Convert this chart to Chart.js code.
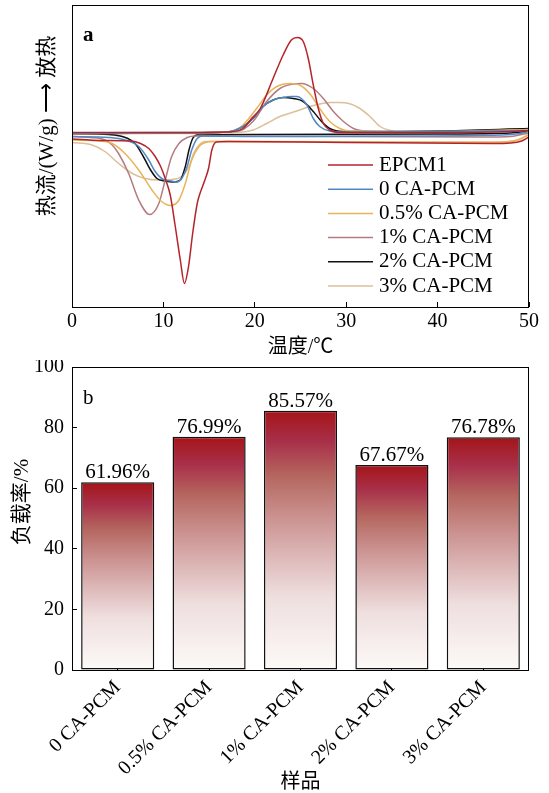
<!DOCTYPE html>
<html>
<head>
<meta charset="utf-8">
<script src="https://cdn.jsdelivr.net/npm/chart.js@4.4.1/dist/chart.umd.min.js"></script>
<style>
  html, body { margin: 0; padding: 0; background: #fff; }
  canvas { display: block; }
</style>
</head>
<body>
<canvas id="dscChart" width="549" height="360"></canvas>
<canvas id="loadChart" width="549" height="433"></canvas>
<script>
// ===== 数据 =====
const sampleNames = ['EPCM1', '0 CA-PCM', '0.5% CA-PCM', '1% CA-PCM', '2% CA-PCM', '3% CA-PCM'];
const sampleColors = ['#b5242a', '#5089c4', '#e8b458', '#b47b80', '#111111', '#dcc09a'];

// 升温段 [温度/℃, 热流/(W/g)]
const heatEPCM1 = [[0,-0.12],[3,-0.15],[6.5,-0.16],[7.5,-0.21],[8.4,-0.31],[9.1,-0.47],[9.7,-0.67],[10.2,-0.91],[10.75,-1.24],[11.3,-1.87],[11.85,-2.54],[12.3,-3.01],[12.75,-2.67],[13.2,-2.01],[13.7,-1.41],[14.0,-1.21],[14.5,-0.96],[14.95,-0.70],[15.3,-0.34],[15.8,-0.18],[17,-0.17],[30,-0.19],[46,-0.21],[48,-0.20],[49.2,-0.16],[50,-0.08]];
const heat0 = [[0,-0.07],[4,-0.09],[5.8,-0.14],[7.3,-0.27],[8.4,-0.54],[9.1,-0.77],[10.0,-0.93],[10.9,-0.96],[11.5,-0.98],[12.0,-0.91],[12.6,-0.67],[13.1,-0.34],[13.7,-0.11],[14.4,-0.06],[20,-0.07],[35,-0.06],[47,-0.04],[49,-0.01],[50,0.03]];
const heat05 = [[0,-0.14],[3,-0.16],[4.4,-0.21],[5.8,-0.41],[7.3,-0.74],[8.75,-1.14],[9.8,-1.37],[10.8,-1.45],[11.7,-1.34],[12.4,-1.01],[13.1,-0.54],[13.9,-0.27],[14.6,-0.19],[15.3,-0.17],[30,-0.18],[46,-0.19],[48.5,-0.15],[50,-0.04]];
const heat1 = [[0,-0.07],[2,-0.09],[3.6,-0.14],[4.4,-0.24],[5.1,-0.41],[6.2,-0.81],[7.3,-1.34],[8.5,-1.63],[9.5,-1.41],[10.2,-0.94],[10.9,-0.47],[11.7,-0.21],[12.6,-0.09],[13.5,-0.06],[25,-0.07],[45,-0.08],[48,-0.07],[50,0]];
const heat2 = [[0,-0.01],[4,-0.03],[5.5,-0.07],[6.9,-0.21],[7.8,-0.47],[8.6,-0.74],[9.3,-0.91],[10.2,-0.96],[11.1,-0.98],[11.85,-0.94],[12.4,-0.67],[12.8,-0.34],[13.2,-0.11],[13.7,-0.04],[20,-0.03],[40,-0.02],[48,0],[50,0.04]];
const heat3 = [[0,-0.19],[2.2,-0.24],[3.6,-0.37],[5.1,-0.61],[6.6,-0.81],[8.0,-0.91],[9.5,-0.94],[10.9,-0.93],[12.0,-0.87],[12.8,-0.67],[13.3,-0.41],[13.9,-0.24],[14.6,-0.17],[20,-0.17],[40,-0.18],[47,-0.18],[49,-0.13],[50,-0.02]];

// 降温段 [温度/℃, 热流/(W/g)]
const coolEPCM1 = [[0,0.01],[10,0.01],[17,0.02],[18.7,0.09],[19.6,0.28],[20.6,0.49],[22.0,1.09],[23.1,1.56],[24.0,1.86],[24.65,1.91],[25.3,1.83],[25.85,1.49],[26.4,0.96],[26.95,0.49],[27.5,0.19],[28.2,0.06],[29.5,0.01],[40,0.01],[48,0.03],[50,0.05]];
const cool0 = [[0,-0.01],[10,0],[17,0.02],[18.7,0.13],[19.8,0.29],[20.9,0.53],[22.0,0.66],[23.1,0.71],[24.0,0.73],[24.6,0.73],[25.7,0.56],[26.4,0.29],[27.1,0.13],[28.2,0.04],[30,0.02],[40,0.03],[50,0.05]];
const cool05 = [[0,-0.02],[10,0],[17.5,0.03],[18.7,0.16],[20.2,0.49],[21.3,0.76],[22.4,0.93],[23.85,0.99],[24.9,0.96],[26.0,0.79],[27.1,0.49],[28.2,0.23],[29.3,0.09],[30.4,0.04],[40,0.03],[50,0.07]];
const cool1 = [[0,0],[10,0.01],[18,0.03],[19.8,0.23],[21.3,0.63],[22.75,0.89],[24.2,0.98],[25.1,0.99],[26.4,0.89],[27.5,0.69],[28.6,0.43],[29.7,0.23],[30.8,0.09],[32.2,0.04],[40,0.02],[50,0.06]];
const cool2 = [[0,-0.02],[10,0],[17,0.02],[18.7,0.13],[19.8,0.29],[20.9,0.53],[22.0,0.66],[23.1,0.71],[24.2,0.69],[25.3,0.63],[26.4,0.43],[27.3,0.23],[28.2,0.09],[29.7,0.03],[40,0.04],[50,0.09]];
const cool3 = [[0,-0.02],[10,-0.01],[18,0.01],[19.8,0.06],[21.3,0.19],[22.75,0.33],[24.6,0.44],[26.0,0.53],[27.5,0.595],[28.3,0.612],[29.2,0.612],[30.4,0.585],[31.5,0.49],[32.6,0.33],[33.7,0.13],[34.8,0.05],[36,0.03],[45,0.03],[50,0.06]];

const heatCurves = [heatEPCM1, heat0, heat05, heat1, heat2, heat3];
const coolCurves = [coolEPCM1, cool0, cool05, cool1, cool2, cool3];
const tempTicks = [0, 10, 20, 30, 40, 50];

// 负载率
const loadCategories = ['0 CA-PCM', '0.5% CA-PCM', '1% CA-PCM', '2% CA-PCM', '3% CA-PCM'];
const loadValues = [61.96, 76.99, 85.57, 67.67, 76.78];
const loadTicks = [0, 20, 40, 60, 80, 100];

// ===== 通用设置 =====
const FONT = "'Liberation Serif', 'Noto Sans CJK SC', serif";
Chart.defaults.font.family = FONT;
Chart.defaults.font.size = 20;
Chart.defaults.color = '#000';

function font(size, weight) {
    return (weight ? weight + ' ' : '') + size + 'px ' + FONT;
}

// 画外框、编号和竖排坐标轴标题
function drawFrame(chart, tag, tagBold, yTitle, yTitleX, yTitleY) {
    const { ctx, chartArea: a } = chart;
    ctx.save();
    ctx.strokeStyle = '#000';
    ctx.lineWidth = 1;
    ctx.strokeRect(a.left + 0.5, a.top + 0.5, a.right - a.left - 1, a.bottom - a.top);
    ctx.fillStyle = '#000';
    ctx.font = font(21, tagBold ? 'bold' : '');
    ctx.textBaseline = 'middle';
    ctx.fillText(tag, a.left + 11, a.top + 31);
    ctx.translate(yTitleX, yTitleY);
    ctx.rotate(-Math.PI / 2);
    ctx.textAlign = 'center';
    ctx.font = font(21);
    ctx.fillText(yTitle, 0, 0);
    ctx.restore();
}

// ===== 图 a：DSC 曲线 =====
const dscDatasets = [];
sampleNames.forEach((name, i) => {
    [heatCurves[i], coolCurves[i]].forEach(curve => {
        dscDatasets.push({
            label: name,
            data: curve.map(p => ({ x: p[0], y: p[1] })),
            borderColor: sampleColors[i],
            borderWidth: 1.5,
            pointRadius: 0,
            cubicInterpolationMode: 'monotone',
            fill: false
        });
    });
});

const dscDecor = {
    id: 'dscDecor',
    afterDraw(chart) {
        drawFrame(chart, 'a', true, '热流/(W/g) ⟶ 放热', 47, 126);
        const { ctx, chartArea: a } = chart;
        ctx.save();
        ctx.font = font(21);
        ctx.textBaseline = 'middle';
        sampleNames.forEach((name, i) => {
            const y = 165 + i * 24.2;
            ctx.strokeStyle = sampleColors[i];
            ctx.lineWidth = 1.5;
            ctx.beginPath();
            ctx.moveTo(a.left + 256, y);
            ctx.lineTo(a.left + 301, y);
            ctx.stroke();
            ctx.fillStyle = '#000';
            ctx.fillText(name, a.left + 307, y);
        });
        ctx.restore();
    }
};

new Chart(document.getElementById('dscChart'), {
    type: 'line',
    data: { datasets: dscDatasets },
    options: {
        responsive: false,
        animation: false,
        layout: { padding: { left: 72, right: 20, top: 5, bottom: 0 } },
        plugins: { legend: { display: false }, tooltip: { enabled: false } },
        scales: {
            x: {
                type: 'linear',
                min: 0,
                max: 50,
                afterBuildTicks: s => { s.ticks = tempTicks.map(v => ({ value: v })); },
                afterFit: s => { s.height = 53; },
                border: { display: false },
                grid: { drawOnChartArea: false, tickLength: -5, color: '#000' },
                ticks: { padding: 8, maxRotation: 0 },
                title: { display: true, text: '温度/℃', padding: 0, font: { size: 20 } }
            },
            y: {
                display: false,
                min: -3.48,
                max: 2.56
            }
        }
    },
    plugins: [dscDecor]
});

// ===== 图 b：负载率柱状图 =====
const barStops = [
    [0, '#a51418'], [0.12, '#a8304a'], [0.25, '#b5665f'], [0.4, '#c98f8d'],
    [0.55, '#dcb5b5'], [0.72, '#efdfdf'], [1, '#fcfaf8']
];

const loadDecor = {
    id: 'loadDecor',
    afterDatasetsDraw(chart) {
        const { ctx } = chart;
        const bars = chart.getDatasetMeta(0).data;
        ctx.save();
        ctx.font = font(21);
        ctx.fillStyle = '#000';
        ctx.textAlign = 'center';
        ctx.textBaseline = 'alphabetic';
        bars.forEach((bar, i) => {
            ctx.fillText(loadValues[i].toFixed(2) + '%', bar.x, bar.y - 4);
        });
        ctx.restore();
    },
    afterDraw(chart) {
        drawFrame(chart, 'b', false, '负载率/%', 22, 142);
    }
};

new Chart(document.getElementById('loadChart'), {
    type: 'bar',
    data: {
        labels: loadCategories,
        datasets: [{
            label: '负载率',
            data: loadValues,
            backgroundColor: function(context) {
                const chart = context.chart;
                if (!chart.chartArea) return barStops[0][1];
                const y = chart.scales.y;
                const g = chart.ctx.createLinearGradient(0, y.getPixelForValue(context.raw), 0, y.getPixelForValue(0));
                barStops.forEach(s => g.addColorStop(s[0], s[1]));
                return g;
            },
            borderColor: '#111',
            borderWidth: 1.5,
            borderSkipped: false,
            barPercentage: 0.8,
            categoryPercentage: 1.0
        }]
    },
    options: {
        responsive: false,
        animation: false,
        layout: { padding: { left: 0, right: 20, top: 7, bottom: 0 } },
        plugins: { legend: { display: false }, tooltip: { enabled: false } },
        scales: {
            x: {
                afterFit: s => { s.height = 123; },
                border: { display: false },
                grid: { offset: false, drawOnChartArea: false, tickLength: -5, color: '#000' },
                ticks: { padding: 11, minRotation: 45, maxRotation: 45 },
                title: { display: true, text: '样品', padding: { bottom: -2 }, font: { size: 20 } }
            },
            y: {
                min: 0,
                max: 100,
                afterBuildTicks: s => { s.ticks = loadTicks.map(v => ({ value: v })); },
                // 固定轴宽，去掉刻度文字撑出的上下留白
                afterFit: s => { s.width = 72; s.paddingTop = 0; s.paddingBottom = 0; },
                border: { display: false },
                grid: { drawOnChartArea: false, tickLength: -5, color: '#000' },
                ticks: { padding: 13 }
            }
        }
    },
    plugins: [loadDecor]
});
</script>
</body>
</html>
